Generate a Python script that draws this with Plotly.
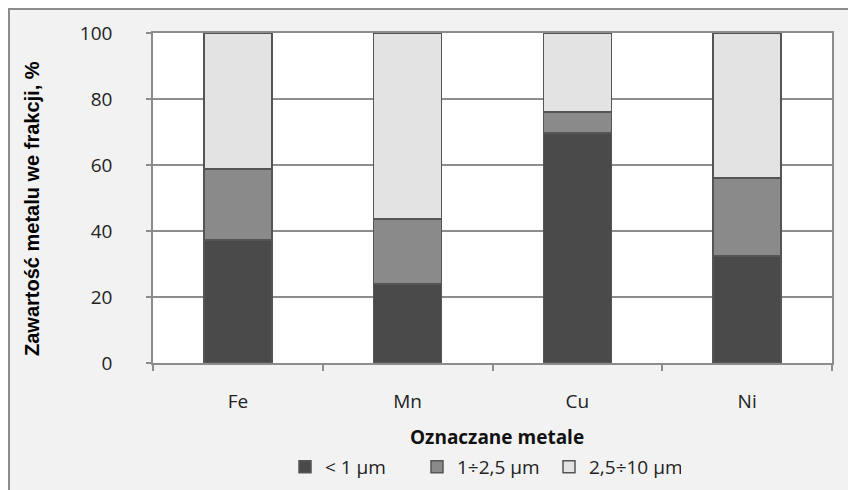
import plotly.graph_objects as go

metals = ["Fe", "Mn", "Cu", "Ni"]
frac_lt1 = [37.3, 24.0, 69.7, 32.4]
frac_1_25 = [21.5, 19.6, 6.3, 23.6]
frac_25_10 = [41.2, 56.4, 24.0, 44.0]
series_names = ["< 1 µm", "1÷2,5 µm", "2,5÷10 µm"]
series_colors = ["#4a4a4a", "#8a8a8a", "#e3e3e3"]
y_ticks = [0, 20, 40, 60, 80, 100]

OFF = 8  # page body margin
W, H = 856, 490
L, R, T, B = 153 - OFF, 856 - (832 - OFF), 33 - OFF, 490 - (363 - OFF)
pw, ph = W - L - R, H - T - B

def px(x):
    return (x - OFF - L) / pw

def py(y):
    return (H - B - (y - OFF)) / ph

fig = go.Figure()
for name, vals, col in zip(series_names, [frac_lt1, frac_1_25, frac_25_10], series_colors):
    fig.add_trace(go.Bar(
        x=metals, y=vals, name=name,
        marker=dict(color=col, line=dict(color="#555555", width=1.5)),
        width=0.4,
    ))

axis_font = dict(family="Open Sans, Liberation Sans, sans-serif", size=19, color="#222222")

fig.update_layout(
    barmode="stack",
    width=W, height=H,
    margin=dict(l=L, r=R, t=T, b=B, pad=0, autoexpand=False),
    paper_bgcolor="#f2f2f2",
    plot_bgcolor="#ffffff",
    showlegend=True,
    legend=dict(
        orientation="h", x=px(285), xref="paper", y=1 - (467 - OFF) / H, yref="container",
        xanchor="left", yanchor="middle",
        font=dict(family="Open Sans, sans-serif", size=19, color="#222222"),
        bgcolor="rgba(0,0,0,0)", traceorder="normal",
        itemwidth=30, entrywidth=87, entrywidthmode="pixels",
    ),
    xaxis=dict(
        tickfont=axis_font, automargin=False,
        showline=True, linecolor="#8c8c8c", linewidth=1.5, mirror=True,
        ticks="outside", tickson="boundaries", ticklen=6, tickcolor="#8c8c8c", tickwidth=1.5,
        showgrid=False,
        ticklabelstandoff=20,
    ),
    yaxis=dict(
        range=[0, 100], tickvals=y_ticks, tickfont=axis_font, automargin=False,
        showline=True, linecolor="#8c8c8c", linewidth=1.5, mirror=True,
        ticks="outside", ticklen=5, tickcolor="#8c8c8c", tickwidth=1.5,
        showgrid=True, gridcolor="#8c8c8c", gridwidth=1.5,
        zeroline=False,
        ticklabelstandoff=30,
    ),
    annotations=[
        dict(text="<b>Zawartość metalu we frakcji, %</b>", xref="paper", yref="paper",
             x=px(32), y=py(209), xanchor="center", yanchor="middle", textangle=-90,
             showarrow=False, font=dict(family="Liberation Sans, Arial, sans-serif", size=20, color="#000000")),
        dict(text="<b>Oznaczane metale</b>", xref="paper", yref="paper",
             x=px(497), y=py(437), xanchor="center", yanchor="middle",
             showarrow=False, font=dict(family="Open Sans, sans-serif", size=19, color="#111111")),
    ],
    shapes=[
        dict(type="rect", xref="paper", yref="paper", x0=px(OFF + 1), y0=py(700), x1=px(1100), y1=py(OFF + 1),
             line=dict(color="#8c8c8c", width=2), fillcolor="rgba(0,0,0,0)", layer="below"),
    ],
)

fig.write_html("out.html")
